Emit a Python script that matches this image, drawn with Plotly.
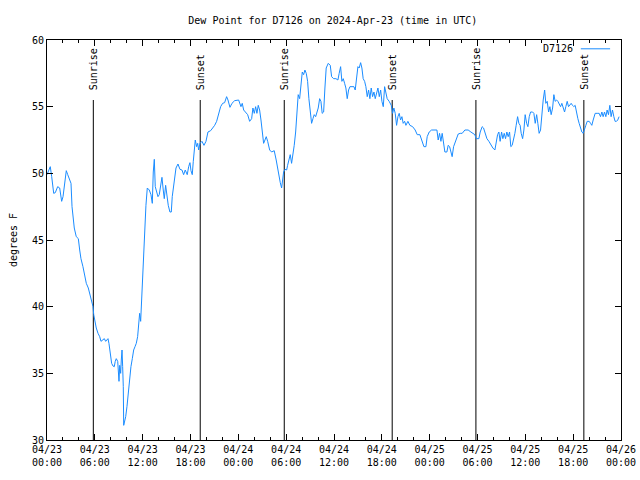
import plotly.graph_objects as go
from datetime import datetime, timedelta

BASE = datetime(2024, 4, 23, 0, 0)

# hours since 2024-04-23 00:00 UTC
hours = [
 0.00,0.41,0.59,0.84,1.04,1.34,1.59,1.84,2.01,2.17,2.42,2.60,2.85,3.01,3.14,3.26,3.42,3.67,3.93,4.10,
 4.26,4.51,4.73,4.93,5.18,5.35,5.56,5.77,5.86,6.02,6.18,6.40,6.61,6.77,7.02,7.19,7.36,7.52,7.65,7.77,
 7.94,8.11,8.28,8.44,8.56,8.69,8.87,8.94,9.03,9.12,9.24,9.32,9.41,9.49,9.57,9.62,9.74,9.87,10.03,10.20,
 10.37,10.53,10.70,10.87,11.04,11.20,11.37,11.50,11.62,11.75,11.83,12.00,12.16,12.29,12.41,12.58,12.83,13.04,13.21,13.33,
 13.46,13.58,13.76,13.92,14.08,14.26,14.42,14.58,14.71,14.88,15.05,15.21,15.42,15.59,15.71,15.89,16.01,16.18,16.43,16.68,
 16.93,17.14,17.34,17.59,17.77,17.93,18.06,18.22,18.35,18.47,18.60,18.77,18.90,19.02,19.19,19.44,19.69,19.94,20.19,20.53,
 20.78,21.03,21.28,21.53,21.78,22.03,22.28,22.53,22.70,22.95,23.20,23.54,24.04,24.33,24.49,24.67,24.92,25.17,25.42,25.67,
 25.83,26.00,26.17,26.33,26.50,26.67,26.84,27.00,27.17,27.34,27.50,27.68,27.93,28.18,28.50,28.75,28.93,29.09,29.26,29.43,
 29.56,29.68,29.85,30.06,30.18,30.35,30.51,30.68,30.85,31.01,31.19,31.35,31.51,31.69,31.85,32.02,32.19,32.35,32.52,32.69,
 32.85,33.02,33.19,33.36,33.52,33.70,33.86,34.02,34.20,34.36,34.52,34.70,34.86,35.02,35.28,35.53,35.70,35.95,36.24,36.49,
 36.65,36.83,36.99,37.16,37.33,37.49,37.66,37.83,38.00,38.25,38.50,38.66,38.84,39.00,39.16,39.34,39.50,39.66,39.84,40.00,
 40.17,40.34,40.50,40.67,40.84,41.01,41.17,41.35,41.51,41.68,41.85,42.01,42.18,42.35,42.51,42.67,42.92,43.18,43.35,43.51,
 43.68,43.85,44.02,44.18,44.35,44.52,44.68,44.86,45.02,45.27,45.52,45.86,46.18,46.44,46.77,47.03,47.28,47.53,47.69,47.94,
 48.24,48.91,49.07,49.24,49.41,49.57,49.75,49.91,50.16,50.32,50.50,50.66,50.82,51.00,51.16,51.32,51.58,51.83,52.08,52.42,
 52.83,53.17,53.42,53.67,53.83,54.17,54.34,54.59,54.76,54.93,55.18,55.43,55.68,55.93,56.18,56.34,56.52,56.68,56.84,57.02,
 57.18,57.35,57.52,57.68,57.85,58.02,58.18,58.35,58.52,58.69,58.85,59.03,59.19,59.35,59.48,59.66,59.82,59.98,60.16,60.32,
 60.49,60.66,60.91,61.07,61.24,61.42,61.57,61.73,61.91,62.07,62.24,62.42,62.57,62.74,62.92,63.08,63.24,63.42,63.58,63.74,
 63.92,64.08,64.24,64.42,64.58,64.75,64.92,65.08,65.25,65.42,65.58,65.75,65.92,66.08,66.25,66.42,66.59,66.75,66.93,67.09,
 67.26,67.43,67.59,67.76,68.01,68.18,68.34,68.51,68.76,69.01,69.26,69.43,69.60,69.76,69.93,70.10,70.26,70.43,70.60,70.76,
 70.93,71.10,71.26,71.43,71.59,71.76,
]

dew_point = [
 49.9,50.5,49.75,48.5,48.55,49.0,48.9,47.9,48.25,49.1,50.2,49.9,49.5,49.25,47.5,46.5,45.9,45.25,45.1,44.25,
 43.6,43.0,42.4,41.75,41.4,41.0,40.6,40.0,39.4,38.75,38.4,38.0,37.75,37.4,37.5,37.6,37.4,37.5,37.6,37.25,
 36.5,35.75,35.55,35.5,35.9,36.1,35.9,35.0,34.4,35.6,35.0,36.0,36.75,35.5,34.0,31.1,31.4,31.75,32.5,33.5,
 34.75,35.5,36.1,36.75,37.0,37.25,37.75,38.75,39.5,38.9,40.0,42.0,44.0,45.9,47.6,48.9,48.75,48.4,47.75,50.1,
 51.05,49.0,48.5,48.25,48.4,49.0,49.7,48.75,48.1,49.1,48.25,47.6,47.1,47.1,48.25,49.0,49.75,50.4,50.7,50.3,
 50.25,49.9,50.25,49.9,50.5,50.8,50.2,49.9,50.9,52.1,52.5,52.0,52.25,51.75,52.25,52.4,52.1,52.4,53.1,53.2,
 53.4,53.6,53.9,54.5,55.0,55.25,55.3,55.75,55.5,54.95,55.25,55.45,55.5,55.0,55.25,54.75,54.6,54.4,53.9,54.1,
 54.9,54.5,55.0,54.5,55.1,54.75,54.0,52.9,52.25,52.5,52.75,52.4,51.75,51.6,51.7,51.0,50.4,49.6,49.3,48.9,
 49.5,50.1,50.3,50.25,50.6,51.1,51.4,50.75,51.4,52.1,53.1,54.9,55.9,55.6,56.9,57.6,57.4,57.75,57.5,56.9,
 55.6,54.5,53.75,54.1,54.4,54.25,54.6,54.9,55.6,55.4,54.5,54.6,56.4,57.9,58.25,58.1,57.25,57.1,57.1,57.0,
 57.5,58.0,56.9,57.1,56.75,56.4,55.6,56.25,56.5,56.5,56.5,56.25,57.4,58.0,57.9,58.3,57.9,57.1,56.9,56.5,
 55.75,56.25,55.6,56.4,55.75,56.1,55.6,56.0,56.4,55.75,56.25,55.4,55.0,56.5,56.0,55.6,55.4,55.1,54.5,54.9,
 54.5,53.6,54.25,54.5,54.0,54.25,53.75,53.9,53.6,53.9,53.6,53.5,53.25,52.9,52.9,52.5,52.0,52.0,52.75,53.1,
 53.25,53.25,52.5,53.0,52.4,53.0,52.4,51.6,51.6,52.1,52.0,51.6,51.25,52.0,52.25,52.6,52.95,53.0,53.0,53.25,
 53.25,53.1,53.0,52.9,52.6,52.6,53.1,53.5,53.4,53.0,52.6,52.4,52.1,51.9,51.75,52.4,52.9,53.1,52.4,53.1,
 52.6,53.0,52.6,53.1,52.75,53.1,52.0,52.1,52.5,53.0,53.6,54.25,53.75,53.6,53.0,52.6,53.25,54.4,53.75,53.5,
 54.25,54.6,54.6,54.5,53.75,54.4,53.75,53.0,53.25,54.5,55.5,56.25,55.25,55.4,54.6,55.0,54.4,54.9,55.9,55.4,
 55.5,55.4,55.25,55.0,55.25,54.9,54.6,55.0,55.4,55.0,55.1,55.25,55.1,55.0,55.1,54.5,54.1,53.75,53.4,53.1,
 53.0,53.25,53.6,53.9,53.9,53.75,53.6,54.0,54.5,54.5,54.5,54.25,54.6,54.25,54.6,54.25,54.75,54.4,55.1,54.25,
 54.75,54.25,53.9,53.9,54.0,54.25,
]

# sunrise / sunset events (hours since start)
sun_hours = [5.81, 19.22, 29.76, 43.30, 53.80, 67.34]
sun_labels = ["Sunrise", "Sunset", "Sunrise", "Sunset", "Sunrise", "Sunset"]
sun_line_top = 55.5

tick_hours = list(range(0, 73, 6))
tick_labels = [
    (BASE + timedelta(hours=h)).strftime("%m/%d") + "<br>" + (BASE + timedelta(hours=h)).strftime("%H:%M")
    for h in tick_hours
]

FONT = "DejaVu Sans Mono"
LINE_COLOR = "#1a8cff"

times = [BASE + timedelta(hours=h) for h in hours]
sun_times = [BASE + timedelta(hours=h) for h in sun_hours]

fig = go.Figure()

# sunrise/sunset vertical lines
vx, vy = [], []
for t in sun_times:
    vx += [t, t, None]
    vy += [30, sun_line_top, None]
fig.add_trace(go.Scatter(x=vx, y=vy, mode="lines", line=dict(color="black", width=1),
                         showlegend=False, hoverinfo="skip"))

fig.add_trace(go.Scatter(x=times, y=dew_point, mode="lines", name="D7126",
                         line=dict(color=LINE_COLOR, width=1), showlegend=False))

for t, lab in zip(sun_times, sun_labels):
    fig.add_annotation(x=t, y=56.1, text=lab, textangle=-90, showarrow=False,
                       xanchor="center", yanchor="bottom",
                       font=dict(family=FONT, size=10, color="black"))

# legend (gnuplot style: text then sample)
fig.add_annotation(xref="paper", yref="paper", x=0.919, y=0.978, text="D7126",
                   showarrow=False, xanchor="right", yanchor="middle",
                   font=dict(family=FONT, size=10, color="black"))
fig.add_shape(type="line", xref="paper", yref="paper", x0=0.930, x1=0.981, y0=0.978, y1=0.978,
              line=dict(color=LINE_COLOR, width=1))

fig.update_layout(
    width=640, height=480,
    margin=dict(l=47, r=19, t=40, b=40, autoexpand=False),
    paper_bgcolor="white", plot_bgcolor="white",
    font=dict(family=FONT, size=10, color="black"),
    title=dict(text="Dew Point for D7126 on 2024-Apr-23 (time in UTC)",
               x=0.52, xanchor="center", y=0.958, yanchor="middle",
               font=dict(family=FONT, size=10, color="black")),
    showlegend=False,
)

fig.update_xaxes(
    range=[BASE, BASE + timedelta(hours=72)],
    tickvals=[BASE + timedelta(hours=h) for h in tick_hours],
    ticktext=tick_labels,
    ticks="inside", ticklen=6, tickcolor="black", tickwidth=1,
    minor=dict(ticks="inside", ticklen=3, dtick=2 * 3600 * 1000, tick0=BASE, tickcolor="black"),
    showline=True, linecolor="black", linewidth=1, mirror="allticks",
    showgrid=False, zeroline=False, automargin=False,
    tickfont=dict(family=FONT, size=10, color="black"),
)
fig.update_yaxes(
    range=[30, 60], tickvals=[30, 35, 40, 45, 50, 55, 60],
    ticks="inside", ticklen=6, tickcolor="black",
    showline=True, linecolor="black", linewidth=1, mirror="allticks",
    showgrid=False, zeroline=False, automargin=False,
    title=dict(text="degrees F", font=dict(family=FONT, size=10, color="black"), standoff=12),
    tickfont=dict(family=FONT, size=10, color="black"),
)

fig.write_html("out.html")
